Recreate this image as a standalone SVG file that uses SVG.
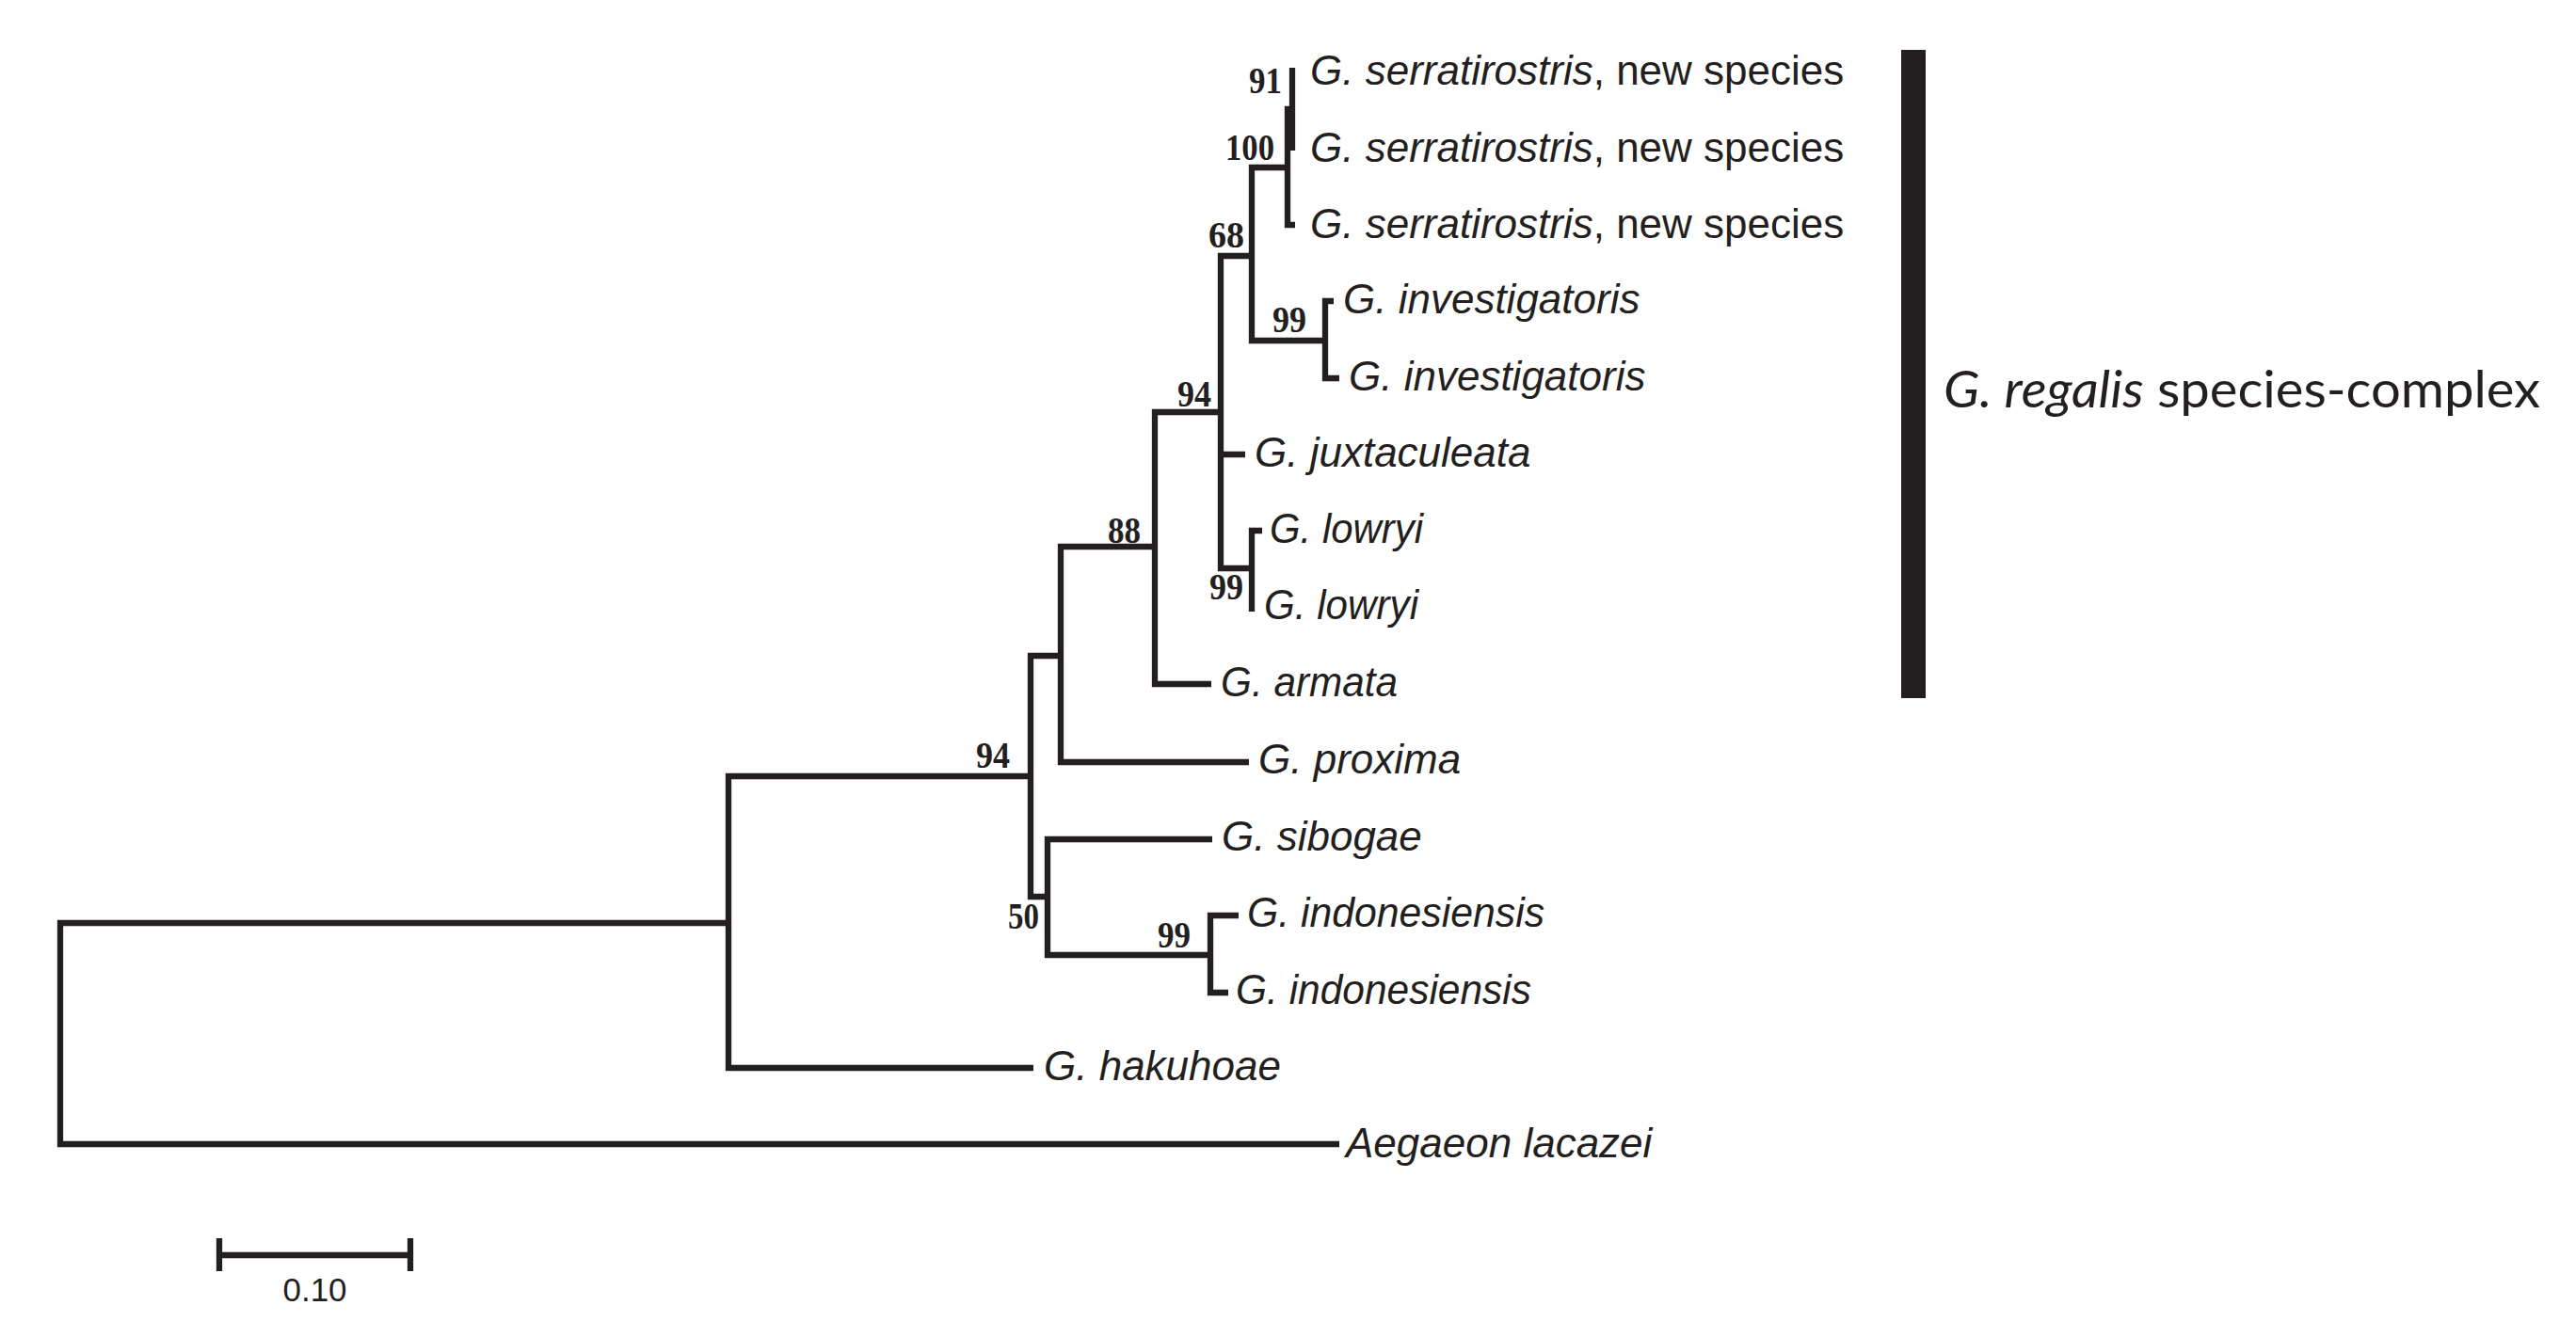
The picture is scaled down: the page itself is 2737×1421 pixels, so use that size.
<svg xmlns="http://www.w3.org/2000/svg" width="2737" height="1421" viewBox="0 0 2737 1421">
<style>
.br{fill:none;stroke:#231f20;stroke-width:6.3;stroke-linejoin:miter;stroke-linecap:butt}
.tip{font-family:"Liberation Sans",Arial,sans-serif;font-size:44px;fill:#231f20}
.it{font-style:italic}
.bs{font-family:"Liberation Serif","Times New Roman",serif;font-weight:bold;font-size:40px;fill:#231f20;text-anchor:end}
.grp{font-family:Lato,"Open Sans",sans-serif;font-size:55px;fill:#231f20}
</style>
<rect width="2737" height="1421" fill="#ffffff"/>
<g id="connectors">
<path class="br" d="M774,981 H64 V1216 H1423"/>
<path class="br" d="M1095,825 H774 V1135 H1098"/>
<path class="br" d="M1127,697 H1095 V953 H1113"/>
<path class="br" d="M1227,581 H1127 V810 H1327"/>
<path class="br" d="M1297,438 H1227 V727 H1287"/>
<path class="br" d="M1330,272 H1297 V604 H1330 M1297,483 H1323"/>
<path class="br" d="M1341,564 H1330 V650"/>
<path class="br" d="M1368,178 H1330 V362 H1408"/>
<path class="br" d="M1417,320 H1408 V402 H1423"/>
<path class="br" d="M1373,116 H1368 V239 H1376"/>
<path class="br" d="M1373,72 V160"/>
<path class="br" d="M1288,892 H1113 V1015 H1286"/>
<path class="br" d="M1316,973 H1286 V1055 H1305"/>
</g>
<g id="support-values">
<text class="bs" x="1362" y="99" textLength="35" lengthAdjust="spacingAndGlyphs">91</text>
<text class="bs" x="1354" y="170" textLength="52" lengthAdjust="spacingAndGlyphs">100</text>
<text class="bs" x="1322" y="263" textLength="38" lengthAdjust="spacingAndGlyphs">68</text>
<text class="bs" x="1388" y="353" textLength="36" lengthAdjust="spacingAndGlyphs">99</text>
<text class="bs" x="1287" y="432" textLength="36" lengthAdjust="spacingAndGlyphs">94</text>
<text class="bs" x="1212" y="577" textLength="35" lengthAdjust="spacingAndGlyphs">88</text>
<text class="bs" x="1321" y="637" textLength="36" lengthAdjust="spacingAndGlyphs">99</text>
<text class="bs" x="1073" y="816" textLength="36" lengthAdjust="spacingAndGlyphs">94</text>
<text class="bs" x="1104" y="987" textLength="33" lengthAdjust="spacingAndGlyphs">50</text>
<text class="bs" x="1265" y="1007" textLength="35" lengthAdjust="spacingAndGlyphs">99</text>
</g>
<g id="tip-serratirostris-1"><text class="tip" x="1392" y="90"><tspan class="it">G. serratirostris</tspan>, new species</text></g>
<g id="tip-serratirostris-2"><text class="tip" x="1392" y="172"><tspan class="it">G. serratirostris</tspan>, new species</text></g>
<g id="tip-serratirostris-3"><text class="tip" x="1392" y="253"><tspan class="it">G. serratirostris</tspan>, new species</text></g>
<g id="tip-investigatoris-1"><text class="tip it" x="1427" y="333">G. investigatoris</text></g>
<g id="tip-investigatoris-2"><text class="tip it" x="1433" y="415">G. investigatoris</text></g>
<g id="tip-juxtaculeata"><text class="tip it" x="1333" y="496">G. juxtaculeata</text></g>
<g id="tip-lowryi-1"><text class="tip it" x="1349" y="577" textLength="163" lengthAdjust="spacingAndGlyphs">G. lowryi</text></g>
<g id="tip-lowryi-2"><text class="tip it" x="1343" y="658" textLength="164" lengthAdjust="spacingAndGlyphs">G. lowryi</text></g>
<g id="tip-armata"><text class="tip it" x="1297" y="740" textLength="188" lengthAdjust="spacingAndGlyphs">G. armata</text></g>
<g id="tip-proxima"><text class="tip it" x="1337" y="822">G. proxima</text></g>
<g id="tip-sibogae"><text class="tip it" x="1298" y="904">G. sibogae</text></g>
<g id="tip-indonesiensis-1"><text class="tip it" x="1325" y="985" textLength="316" lengthAdjust="spacingAndGlyphs">G. indonesiensis</text></g>
<g id="tip-indonesiensis-2"><text class="tip it" x="1313" y="1067" textLength="314" lengthAdjust="spacingAndGlyphs">G. indonesiensis</text></g>
<g id="tip-hakuhoae"><text class="tip it" x="1109" y="1148">G. hakuhoae</text></g>
<g id="tip-aegaeon"><text class="tip it" x="1430" y="1230">Aegaeon lacazei</text></g>
<g id="complex-bar">
<rect x="2020" y="53" width="26" height="689" fill="#231f20"/>
<text class="grp" x="2065" y="433" textLength="634" lengthAdjust="spacingAndGlyphs"><tspan font-style="italic">G. regalis</tspan> species-complex</text>
</g>
<g id="scale-bar">
<path class="br" d="M233,1316 V1351 M436,1316 V1351 M233,1334 H436"/>
<text x="334.5" y="1383" text-anchor="middle" font-family="Liberation Sans,Arial,sans-serif" font-size="35" fill="#231f20">0.10</text>
</g>
</svg>
